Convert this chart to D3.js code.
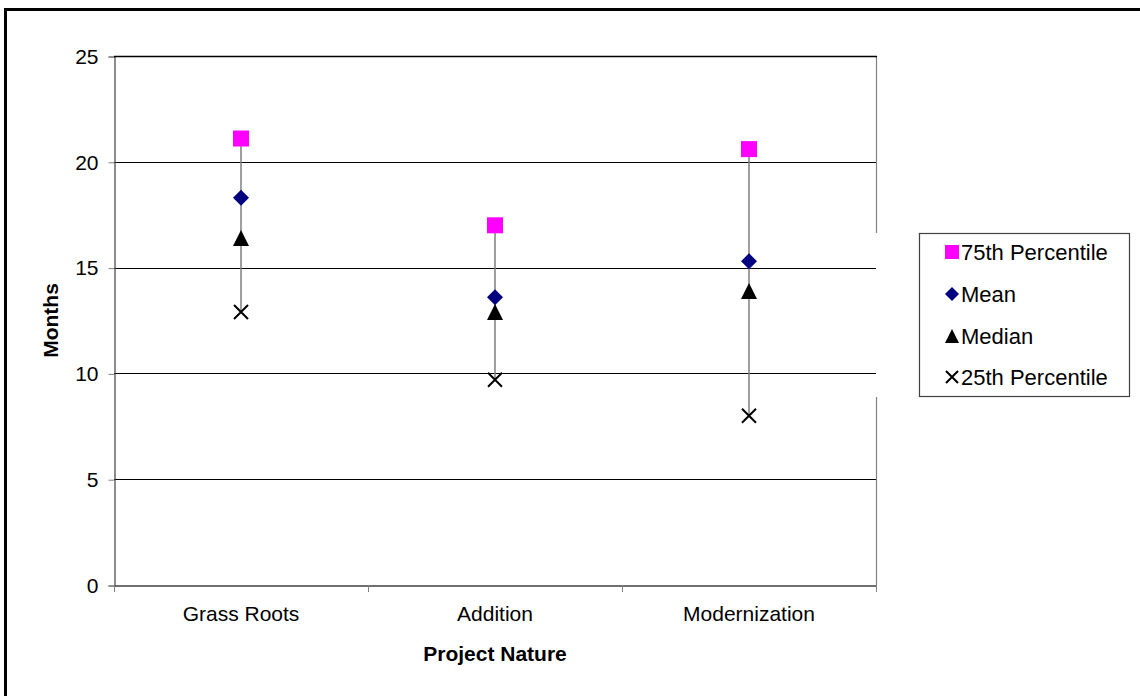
<!DOCTYPE html>
<html>
<head>
<meta charset="utf-8">
<script src="https://cdn.jsdelivr.net/npm/d3@7"></script>
<style>
  html, body { margin: 0; padding: 0; background: #fff; }
  svg { display: block; font-family: "Liberation Sans", Arial, sans-serif; }
</style>
</head>
<body>
<svg id="chart" width="1140" height="696"></svg>
<script>
const categories = ["Grass Roots", "Addition", "Modernization"];
const p75 = [21.1, 17.0, 20.6];
const meanVals = [18.3, 13.6, 15.3];
const medianVals = [16.4, 12.9, 13.9];
const p25 = [12.9, 9.7, 8.0];
const yTicks = [0, 5, 10, 15, 20, 25];
const seriesNames = ["75th Percentile", "Mean", "Median", "25th Percentile"];

(function () {
const FS = 21;
const svg = d3.select("#chart");
const pLeft = 114, pRight = 876, pTop = 56, pBottom = 585;

// outer frame
svg.append("rect").attr("x", 5.5).attr("y", 9.5).attr("width", 1200).attr("height", 800)
  .attr("fill", "none").attr("stroke", "#000").attr("stroke-width", 3);

const x = d3.scaleBand().domain(categories).range([pLeft, pRight]).padding(0);
const y = d3.scaleLinear().domain([0, 25]).range([pBottom, pTop]);

// gridlines
svg.append("g").selectAll("line").data(yTicks.filter(t => t > 0))
  .join("line")
  .attr("x1", pLeft).attr("x2", pRight)
  .attr("y1", d => Math.round(y(d)) + 0.5).attr("y2", d => Math.round(y(d)) + 0.5)
  .attr("stroke", "#000").attr("stroke-width", 1);

// right border of plot, with gap behind legend
svg.append("line").attr("x1", pRight + 0.5).attr("x2", pRight + 0.5).attr("y1", pTop).attr("y2", 233)
  .attr("stroke", "#808080").attr("stroke-width", 1.2);
svg.append("line").attr("x1", pRight + 0.5).attr("x2", pRight + 0.5).attr("y1", 397).attr("y2", pBottom)
  .attr("stroke", "#808080").attr("stroke-width", 1.2);

// Y axis
const yAxis = d3.axisLeft(y).tickValues(yTicks).tickSize(6).tickPadding(10);
const gy = svg.append("g").attr("transform", `translate(${pLeft + 0.5},0.5)`).call(yAxis);
gy.select(".domain").attr("stroke", "#404040").attr("stroke-width", 1.2);
gy.selectAll(".tick line").attr("stroke", "#808080");
gy.selectAll(".tick text").attr("font-size", FS).attr("fill", "#000")
  .attr("font-family", "Liberation Sans, Arial, sans-serif");

// X axis
const xAxis = d3.axisBottom(x).tickSize(0).tickPadding(21);
const gx = svg.append("g").attr("transform", `translate(0,${pBottom + 0.5})`).call(xAxis);
gx.select(".domain").attr("stroke", "#404040").attr("stroke-width", 1.5);
gx.selectAll(".tick text").attr("font-size", FS).attr("fill", "#000")
  .attr("font-family", "Liberation Sans, Arial, sans-serif");
// category separator ticks
const sepX = categories.map(c => x(c)).concat([x(categories[categories.length - 1]) + x.bandwidth()]);
svg.append("g").selectAll("line").data(sepX).join("line")
  .attr("x1", d => Math.round(d) + 0.5).attr("x2", d => Math.round(d) + 0.5)
  .attr("y1", pBottom).attr("y2", pBottom + 7)
  .attr("stroke", "#808080").attr("stroke-width", 1);

// top border
svg.append("line").attr("x1", pLeft).attr("x2", pRight + 1).attr("y1", pTop + 0.5).attr("y2", pTop + 0.5)
  .attr("stroke", "#000").attr("stroke-width", 1.5);

// high-low lines
const cx = c => x(c) + x.bandwidth() / 2;
svg.append("g").selectAll("line").data(categories).join("line")
  .attr("x1", d => cx(d)).attr("x2", d => cx(d))
  .attr("y1", (d, i) => y(p75[i])).attr("y2", (d, i) => y(p25[i]))
  .attr("stroke", "#7f7f7f").attr("stroke-width", 1.5);

// markers
function drawMarker(g, type, px, py) {
  if (type === 0) {
    g.append("rect").attr("x", px - 8).attr("y", py - 8).attr("width", 16).attr("height", 16).attr("fill", "#ff00ff");
  } else if (type === 1) {
    g.append("path").attr("d", `M${px},${py - 8}L${px + 8},${py}L${px},${py + 8}L${px - 8},${py}Z`).attr("fill", "#000080");
  } else if (type === 2) {
    g.append("path").attr("d", `M${px},${py - 8}L${px + 8},${py + 8}L${px - 8},${py + 8}Z`).attr("fill", "#000");
  } else {
    g.append("path").attr("d", `M${px - 7},${py - 7}L${px + 7},${py + 7}M${px + 7},${py - 7}L${px - 7},${py + 7}`)
      .attr("stroke", "#000").attr("stroke-width", 2).attr("fill", "none");
  }
}
const allSeries = [p75, meanVals, medianVals, p25];
const mg = svg.append("g");
[3, 2, 1, 0].forEach(s => {
  categories.forEach((c, i) => drawMarker(mg, s, cx(c), y(allSeries[s][i])));
});

// axis titles
svg.append("text").attr("x", (pLeft + pRight) / 2).attr("y", 661).attr("text-anchor", "middle")
  .attr("font-size", FS).attr("font-weight", "bold").text("Project Nature");
svg.append("text").attr("transform", `translate(58,${(pTop + pBottom) / 2}) rotate(-90)`)
  .attr("text-anchor", "middle").attr("font-size", FS).attr("font-weight", "bold").text("Months");

// legend
const lg = svg.append("g");
lg.append("rect").attr("x", 919.5).attr("y", 233.5).attr("width", 210).attr("height", 163)
  .attr("fill", "#fff").attr("stroke", "#404040").attr("stroke-width", 1.2);
const rowY = [252, 294, 336, 377];
seriesNames.forEach((name, i) => {
  const my = rowY[i];
  if (i === 0) lg.append("rect").attr("x", 945).attr("y", my - 7).attr("width", 14).attr("height", 14).attr("fill", "#ff00ff");
  else if (i === 1) lg.append("path").attr("d", `M952,${my - 7}L959,${my}L952,${my + 7}L945,${my}Z`).attr("fill", "#000080");
  else if (i === 2) lg.append("path").attr("d", `M952,${my - 7}L959,${my + 7}L945,${my + 7}Z`).attr("fill", "#000");
  else lg.append("path").attr("d", `M946,${my - 6}L958,${my + 6}M958,${my - 6}L946,${my + 6}`).attr("stroke", "#000").attr("stroke-width", 2);
  lg.append("text").attr("x", 961).attr("y", my).attr("dy", "0.35em").attr("font-size", 22).text(name);
});
})();
</script>
</body>
</html>
